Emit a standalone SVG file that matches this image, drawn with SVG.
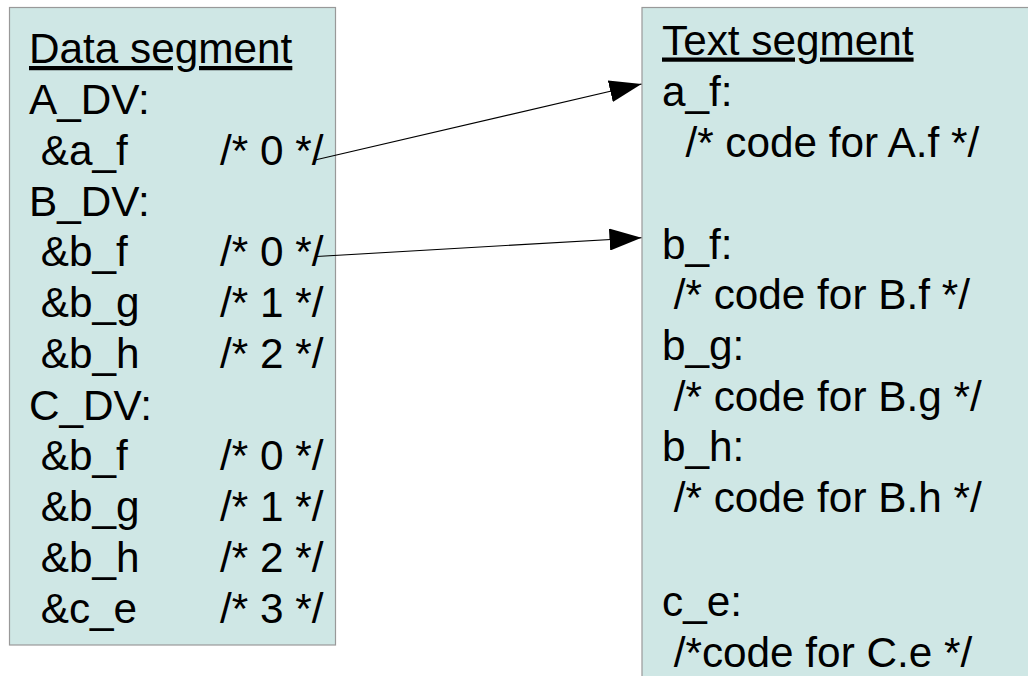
<svg xmlns="http://www.w3.org/2000/svg" width="1028" height="676" viewBox="0 0 1028 676">
<style>
.box{fill:#cfe7e5;stroke:#999;stroke-width:1.2}
.t{font-family:"Liberation Sans",Arial,sans-serif;font-size:42.3px;fill:#000}
.u{text-decoration:underline;text-decoration-skip-ink:none}
.conn{stroke:#000;stroke-width:1.1;fill:none}
</style>
<defs>
<marker id="ah" markerUnits="userSpaceOnUse" viewBox="0 0 32 22" refX="32" refY="11" markerWidth="32" markerHeight="22" orient="auto">
<path d="M0,0 L32,11 L0,22 Z" fill="#000"/>
</marker>
</defs>
<g id="data-segment">
<rect class="box" x="9.5" y="7.5" width="326" height="637.5"/>
<text class="t u" x="29" y="63">Data segment</text>
<text class="t" x="29" y="114">A_DV:</text>
<text class="t" x="40.7" y="165">&amp;a_f</text>
<text class="t" x="220" y="165">/* 0 */</text>
<text class="t" x="29" y="215.5">B_DV:</text>
<text class="t" x="40.7" y="266">&amp;b_f</text>
<text class="t" x="220" y="266">/* 0 */</text>
<text class="t" x="40.7" y="317">&amp;b_g</text>
<text class="t" x="220" y="317">/* 1 */</text>
<text class="t" x="40.7" y="368">&amp;b_h</text>
<text class="t" x="220" y="368">/* 2 */</text>
<text class="t" x="29" y="419.5">C_DV:</text>
<text class="t" x="40.7" y="470">&amp;b_f</text>
<text class="t" x="220" y="470">/* 0 */</text>
<text class="t" x="40.7" y="521">&amp;b_g</text>
<text class="t" x="220" y="521">/* 1 */</text>
<text class="t" x="40.7" y="572">&amp;b_h</text>
<text class="t" x="220" y="572">/* 2 */</text>
<text class="t" x="40.7" y="623">&amp;c_e</text>
<text class="t" x="220" y="623">/* 3 */</text>
</g>
<g id="text-segment">
<rect class="box" x="642" y="7.5" width="400" height="690"/>
<text class="t u" x="662" y="54.5">Text segment</text>
<text class="t" x="662" y="105.5">a_f:</text>
<text class="t" x="685.4" y="156.5">/* code for A.f */</text>
<text class="t" x="662" y="258.5">b_f:</text>
<text class="t" x="673.7" y="309">/* code for B.f */</text>
<text class="t" x="662" y="360">b_g:</text>
<text class="t" x="673.7" y="410.5">/* code for B.g */</text>
<text class="t" x="662" y="461">b_h:</text>
<text class="t" x="673.7" y="511.5">/* code for B.h */</text>
<text class="t" x="662" y="616">c_e:</text>
<text class="t" x="673.7" y="667">/*code for C.e */</text>
</g>
<g id="connectors">
<line class="conn" x1="315" y1="160" x2="641.5" y2="84" marker-end="url(#ah)"/>
<line class="conn" x1="316.5" y1="256.5" x2="641.5" y2="237.7" marker-end="url(#ah)"/>
</g>
</svg>
